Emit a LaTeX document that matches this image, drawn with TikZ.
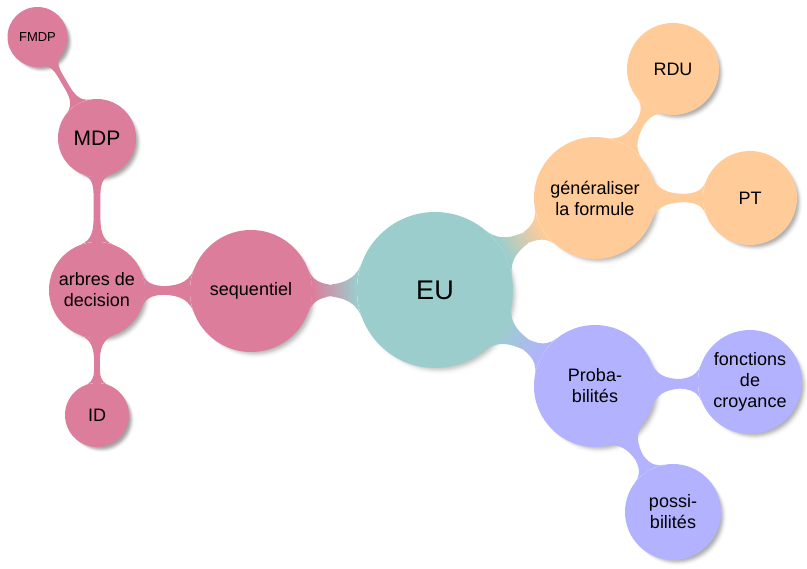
\documentclass[tikz,border=0pt]{standalone}
\usepackage{fontspec}
\setmainfont{Liberation Sans}
\usetikzlibrary{mindmap,shadows}
\definecolor{cpink}{RGB}{220,125,155}
\definecolor{cteal}{RGB}{155,205,205}
\definecolor{corange}{RGB}{255,204,153}
\definecolor{cblue}{RGB}{178,178,255}
\begin{document}
\begin{tikzpicture}[x=1pt,y=-1pt,
  bub/.style={circle, inner sep=0pt, align=center, minimum size=#1,
    font=\fontsize{18}{21}\selectfont,
    circular drop shadow={shadow xshift=4.5pt, shadow yshift=-4.5pt, shadow scale=1.03, opacity=0.2},
    circular drop shadow={shadow xshift=4pt, shadow yshift=-4pt, shadow scale=1.01, opacity=0.35},
    circular drop shadow={shadow xshift=3pt, shadow yshift=-3pt, shadow scale=1.0, opacity=0.55}},
  bar/.style={circle connection bar switch color=from (#1) to (#1)},
]
\useasboundingbox (0,0) rectangle (807,569);
\node[bub=156, fill=cteal, font=\fontsize{27}{30}\selectfont] (eu) at (435,290) {EU};
\node[bub=122, fill=cpink] (seq) at (251,291) {sequentiel};
\node[bub=96, fill=cpink] (arb) at (97,290) {arbres de\\decision};
\node[bub=78, fill=cpink, font=\fontsize{21}{24}\selectfont] (mdp) at (97,138) {MDP};
\node[bub=60, fill=cpink, font=\fontsize{13}{15}\selectfont] (fmdp) at (37.5,37) {FMDP};
\node[bub=64, fill=cpink] (id) at (97,415) {ID};
\node[bub=122, fill=corange] (gen) at (595,198) {généraliser\\la formule};
\node[bub=92, fill=corange] (rdu) at (673,69) {RDU};
\node[bub=94, fill=corange] (pt) at (750,198) {PT};
\node[bub=122, fill=cblue] (prob) at (595,386) {Proba-\\bilités};
\node[bub=104, fill=cblue] (fonc) at (750,382) {fonctions\\de\\croyance};
\node[bub=96, fill=cblue] (poss) at (673,512) {possi-\\bilités};

\path (eu) to[circle connection bar switch color=from (cteal) to (cpink), decoration={amplitude=12pt}] (seq);
\path (seq) to[bar=cpink, decoration={amplitude=9pt}] (arb);
\path (arb) to[bar=cpink, decoration={amplitude=7pt}] (mdp);
\path (arb) to[bar=cpink, decoration={amplitude=6pt}] (id);
\path (mdp) to[bar=cpink, decoration={amplitude=5pt}] (fmdp);
\path (eu) to[circle connection bar switch color=from (cteal) to (corange), decoration={amplitude=10pt}] (gen);
\path (gen) to[bar=corange, decoration={amplitude=8pt}] (rdu);
\path (gen) to[bar=corange, decoration={amplitude=9pt}] (pt);
\path (eu) to[circle connection bar switch color=from (cteal) to (cblue), decoration={amplitude=10pt}] (prob);
\path (prob) to[bar=cblue, decoration={amplitude=9pt}] (fonc);
\path (prob) to[bar=cblue, decoration={amplitude=8pt}] (poss);
\end{tikzpicture}
\end{document}
